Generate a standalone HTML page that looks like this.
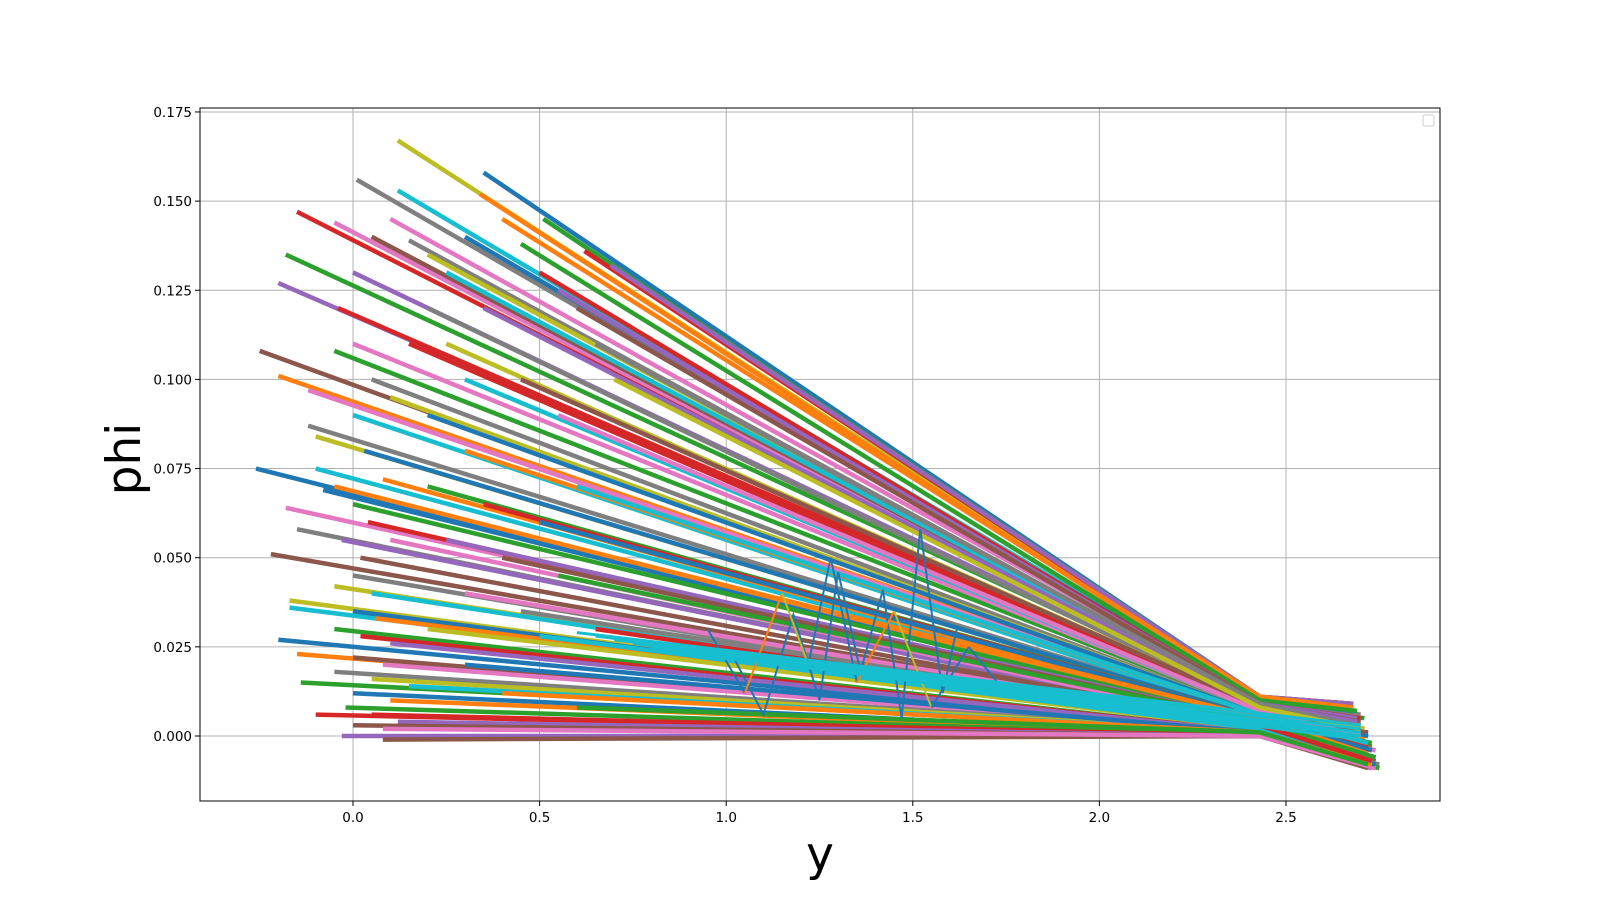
<!DOCTYPE html>
<html><head><meta charset="utf-8"><style>
html,body{margin:0;padding:0;background:#fff}
svg text{font-family:"DejaVu Sans","Liberation Sans",sans-serif}
</style></head><body>
<svg id="chart" width="1600" height="900" viewBox="0 0 1600 900" xmlns="http://www.w3.org/2000/svg">
<rect width="1600" height="900" fill="#fff"/>
<g id="grid"></g>
<g id="lines"></g>
<g id="axes"></g>
</svg>
<script>
const xTicks=[0.0,0.5,1.0,1.5,2.0,2.5];
const xTickLabels=["0.0","0.5","1.0","1.5","2.0","2.5"];
const yTicks=[0,0.025,0.05,0.075,0.1,0.125,0.15,0.175];
const yTickLabels=["0.000","0.025","0.050","0.075","0.100","0.125","0.150","0.175"];
const startX=[-0.26,-0.2,-0.18,-0.15,-0.2,-0.25,-0.05,0.01,0.12,0.12,
0.35,0.34,0.51,0.62,0.69,-0.22,-0.18,-0.15,-0.17,-0.17,
-0.2,-0.15,-0.14,-0.1,-0.03,0.08,-0.12,-0.12,-0.1,-0.1,
-0.08,-0.05,-0.05,-0.04,0.0,0.05,0.1,0.15,0.2,0.25,
0.3,0.4,0.45,0.5,0.55,0.6,0.0,0.05,0.1,0.0,
0.03,0.08,0.0,0.04,-0.03,0.02,0.1,0.0,-0.05,0.05,
0.0,0.06,-0.05,0.02,0.1,0.0,0.08,-0.05,0.05,0.15,
0.0,0.1,-0.02,0.05,0.12,0.0,0.08,0.2,0.25,0.3,
0.2,0.3,0.2,0.35,0.25,0.4,0.3,0.45,0.2,0.5,
0.3,0.4,0.6,0.15,0.35,0.45,0.55,0.65,0.7,0.6,
0.5,0.7,0.55,0.65];
const startPhi=[0.075,0.101,0.135,0.147,0.127,0.108,0.144,0.156,0.167,0.153,
0.158,0.152,0.145,0.136,0.132,0.051,0.064,0.058,0.038,0.036,
0.027,0.023,0.015,0.006,0.0,-0.001,0.097,0.087,0.084,0.075,
0.069,0.07,0.108,0.12,0.13,0.14,0.145,0.139,0.135,0.13,
0.14,0.145,0.138,0.13,0.125,0.12,0.11,0.1,0.095,0.09,
0.08,0.072,0.065,0.06,0.055,0.05,0.055,0.045,0.042,0.04,
0.035,0.033,0.03,0.028,0.026,0.022,0.02,0.018,0.016,0.014,
0.012,0.01,0.008,0.006,0.004,0.003,0.002,0.12,0.11,0.1,
0.09,0.08,0.07,0.065,0.055,0.05,0.04,0.035,0.03,0.028,
0.02,0.012,0.008,0.11,0.12,0.1,0.09,0.11,0.1,0.07,
0.06,0.05,0.045,0.03];
const kneePhi=[0.004,0.006,0.009,0.010,0.008,0.006,0.009,0.010,0.011,0.010,
0.011,0.010,0.011,0.011,0.011,0.003,0.004,0.003,0.002,0.002,
0.001,0.001,0.001,0.000,0.000,0.000,0.006,0.005,0.005,0.004,
0.004,0.004,0.007,0.008,0.009,0.009,0.010,0.009,0.009,0.009,
0.010,0.011,0.010,0.009,0.009,0.009,0.007,0.006,0.006,0.005,
0.005,0.004,0.004,0.003,0.003,0.003,0.003,0.002,0.002,0.002,
0.002,0.002,0.001,0.001,0.001,0.001,0.001,0.001,0.001,0.001,
0.000,0.000,0.000,0.000,0.000,0.000,0.000,0.008,0.008,0.007,
0.006,0.006,0.005,0.005,0.004,0.004,0.003,0.003,0.002,0.002,
0.001,0.001,0.001,0.007,0.009,0.008,0.007,0.009,0.008,0.006,
0.005,0.005,0.004,0.003];
const endPhi=[-0.004,0.000,0.005,0.007,0.003,0.001,0.006,0.008,0.009,0.007,
0.008,0.007,0.009,0.009,0.009,-0.005,-0.003,-0.004,-0.006,-0.006,
-0.007,-0.008,-0.008,-0.009,-0.009,-0.009,0.000,-0.001,-0.001,-0.002,
-0.003,-0.003,0.002,0.004,0.005,0.006,0.007,0.006,0.005,0.005,
0.007,0.008,0.007,0.005,0.005,0.004,0.002,0.001,0.000,-0.001,
-0.002,-0.002,-0.003,-0.004,-0.004,-0.005,-0.004,-0.005,-0.006,-0.006,
-0.006,-0.006,-0.007,-0.007,-0.007,-0.007,-0.008,-0.008,-0.008,-0.008,
-0.008,-0.009,-0.009,-0.009,-0.009,-0.009,-0.009,0.003,0.002,0.001,
0.000,-0.001,-0.002,-0.003,-0.004,-0.004,-0.005,-0.006,-0.007,-0.007,
-0.008,-0.008,-0.008,0.002,0.004,0.001,0.000,0.003,0.002,-0.002,
-0.004,-0.005,-0.006,-0.007];
const endX=[2.70,2.69,2.71,2.68,2.70,2.72,2.69,2.68,2.68,2.69,
2.68,2.69,2.68,2.68,2.68,2.71,2.70,2.72,2.73,2.71,
2.72,2.73,2.74,2.73,2.74,2.75,2.70,2.71,2.69,2.72,
2.71,2.73,2.70,2.69,2.68,2.69,2.68,2.70,2.69,2.68,
2.68,2.68,2.69,2.70,2.69,2.70,2.71,2.70,2.72,2.71,
2.72,2.71,2.73,2.72,2.73,2.71,2.74,2.72,2.73,2.74,
2.72,2.73,2.74,2.72,2.73,2.74,2.73,2.75,2.74,2.72,
2.74,2.73,2.75,2.74,2.73,2.72,2.74,2.70,2.71,2.70,
2.72,2.71,2.73,2.72,2.71,2.73,2.72,2.74,2.73,2.72,
2.74,2.73,2.72,2.70,2.69,2.71,2.70,2.69,2.70,2.72,
2.73,2.72,2.74,2.73];
const kneeX=2.43;
const bandStartX=[0.6,0.65,0.7,0.75,0.8,0.85,0.9];
const bandStartPhi=[0.029,0.028,0.027,0.026,0.025,0.024,0.023];
const bandEndPhi=[0.003,0.002,0.001,0.000,-0.001,0.000,0.001];
const zigX=[1.02,1.1,1.18,1.25,1.3,1.36,1.42,1.47,1.52,1.58,1.62];
const zigPhi=[0.022,0.006,0.034,0.01,0.046,0.018,0.041,0.005,0.058,0.012,0.031];
const zig2X=[0.95,1.05,1.15,1.22,1.28,1.35,1.45,1.55,1.65,1.75];
const zig2Phi=[0.03,0.012,0.04,0.02,0.05,0.015,0.035,0.008,0.025,0.012];
const zig2Colors=["#1f77b4","#ff7f0e","#bcbd22","#1f77b4"];

const colors=["#1f77b4","#ff7f0e","#2ca02c","#d62728","#9467bd","#8c564b","#e377c2","#7f7f7f","#bcbd22","#17becf"];
const L=200,R=1440,T=108,B=801;
function sx(v){return 353+v*373.2;}
function sy(v){return 736-v*3566;}
const NS="http://www.w3.org/2000/svg";
const grid=document.getElementById('grid'),lines=document.getElementById('lines'),axes=document.getElementById('axes');
function mk(tag,attrs,parent){const e=document.createElementNS(NS,tag);for(const k in attrs)e.setAttribute(k,attrs[k]);parent.appendChild(e);return e;}

xTicks.forEach((t,i)=>{
  const x=sx(t);
  const g=mk('line',{x1:x,x2:x,y1:T,y2:B,stroke:'#b0b0b0','stroke-width':1},grid);
  
  
  mk('line',{x1:x,x2:x,y1:B,y2:B+5,stroke:'#000','stroke-width':1},axes);
  const tx=mk('text',{x:x,y:B+21,'text-anchor':'middle','font-size':13.5,fill:'#000'},axes);
  tx.textContent=xTickLabels[i];
  
  
});
yTicks.forEach((t,i)=>{
  const y=sy(t);
  const g=mk('line',{x1:L,x2:R,y1:y,y2:y,stroke:'#b0b0b0','stroke-width':1},grid);
  
  
  mk('line',{x1:L-5,x2:L,y1:y,y2:y,stroke:'#000','stroke-width':1},axes);
  const tx=mk('text',{x:L-8,y:y+5,'text-anchor':'end','font-size':13.5,fill:'#000'},axes);
  tx.textContent=yTickLabels[i];
  
  
});

startX.forEach((x0,i)=>{
  const pts=[[sx(x0),sy(startPhi[i])],[sx(kneeX),sy(kneePhi[i])],[sx(endX[i]),sy(endPhi[i])]];
  const p=mk('polyline',{points:pts.map(p=>p.join(',')).join(' '),fill:'none',stroke:colors[i%10],'stroke-width':4.5,'stroke-linejoin':'round'},lines);
  
  
});
const z1=mk('polyline',{points:zigX.map((x,i)=>sx(x)+','+sy(zigPhi[i])).join(' '),fill:'none',stroke:'#1f77b4','stroke-width':2},lines);


for(let i=0;i<zig2X.length-1;i++){
  const s=mk('line',{x1:sx(zig2X[i]),y1:sy(zig2Phi[i]),x2:sx(zig2X[i+1]),y2:sy(zig2Phi[i+1]),stroke:zig2Colors[i%4],'stroke-width':2},lines);
  
  
}
bandStartX.forEach((x0,i)=>{
  const p=mk('line',{x1:sx(x0),y1:sy(bandStartPhi[i]),x2:sx(2.7),y2:sy(bandEndPhi[i]),stroke:'#17becf','stroke-width':3},lines);
  
  
});

const frame=mk('rect',{x:L,y:T,width:R-L,height:B-T,fill:'none',stroke:'#000','stroke-width':1},axes);


const lg=mk('rect',{x:1423,y:115,width:11,height:11,rx:2,fill:'#fff',stroke:'#ccc','stroke-width':1},axes);


const xl=mk('text',{x:820,y:870,'text-anchor':'middle','font-size':47,fill:'#000'},axes);
xl.textContent='y';


const yl=mk('text',{x:0,y:0,'text-anchor':'middle','font-size':47,fill:'#000',transform:'translate(140,459) rotate(-90)'},axes);
yl.textContent='phi';


</script>
</body></html>
